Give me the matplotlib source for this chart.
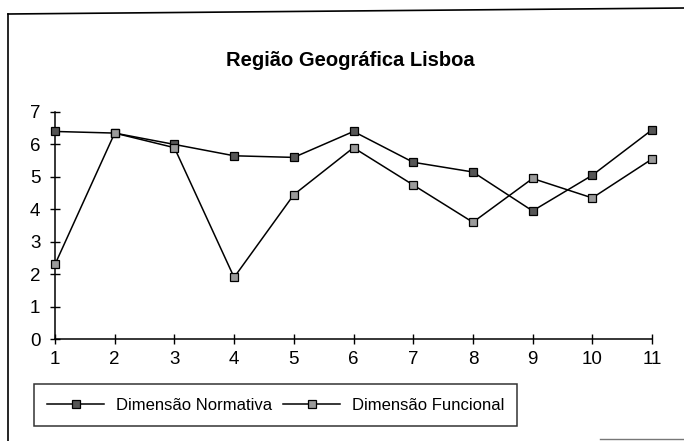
import matplotlib
matplotlib.use("Agg")
import matplotlib.pyplot as plt
from matplotlib.lines import Line2D

plt.rcParams['font.family'] = ['Liberation Sans', 'DejaVu Sans']

x = [1, 2, 3, 4, 5, 6, 7, 8, 9, 10, 11]
normativa = [6.4, 6.35, 6.0, 5.65, 5.6, 6.4, 5.45, 5.15, 3.95, 5.05, 6.45]
funcional = [2.3, 6.35, 5.9, 1.9, 4.45, 5.9, 4.75, 3.6, 4.95, 4.35, 5.55]
yticks = [0, 1, 2, 3, 4, 5, 6, 7]
title = "Região Geográfica Lisboa"
labels = ["Dimensão Normativa", "Dimensão Funcional"]

fig = plt.figure(figsize=(6.84, 4.41), dpi=100)
ax = fig.add_axes([55/684, 1-339/441, (652-55)/684, (339-112)/441])

ax.plot(x, normativa, color='black', lw=1.1, marker='s', ms=5.5,
        mfc='#555555', mec='black', mew=0.9, label=labels[0], clip_on=False, zorder=3)
ax.plot(x, funcional, color='black', lw=1.1, marker='s', ms=5.5,
        mfc='#9a9a9a', mec='black', mew=0.9, label=labels[1], clip_on=False, zorder=3)

ax.set_xlim(1, 11)
ax.set_ylim(0, 7)
ax.set_xticks(x)
ax.set_yticks(yticks)
ax.tick_params(axis='both', direction='inout', length=7, width=1, labelsize=13.5, color='black')
ax.tick_params(axis='x', pad=5)
ax.tick_params(axis='y', pad=7)
for s in ['top', 'right']:
    ax.spines[s].set_visible(False)
for s in ['left', 'bottom']:
    ax.spines[s].set_linewidth(1.1)

fig.text(350/684, 1-60/441, title, ha='center', va='center', fontsize=14.5, fontweight='bold')

leg = fig.legend(loc='center left', bbox_to_anchor=(34/684, 1-405/441),
                 ncol=2, fontsize=12, frameon=True, fancybox=False,
                 edgecolor='black', handlelength=3.4, borderaxespad=0, borderpad=0.8,
                 handletextpad=0.7, columnspacing=0.7)
leg.get_frame().set_linewidth(1.1)

# outer border of the chart area (scanned frame)
fig.add_artist(Line2D([8/684, 8/684], [0, 1-14/441], color='black', lw=1.2, transform=fig.transFigure))
fig.add_artist(Line2D([8/684, 1], [1-14/441, 1-8/441], color='black', lw=1.2, transform=fig.transFigure))
fig.add_artist(Line2D([600/684, 1], [1-439/441, 1-439/441], color='#777777', lw=1.0, transform=fig.transFigure))

fig.savefig('out.png', dpi=100)
